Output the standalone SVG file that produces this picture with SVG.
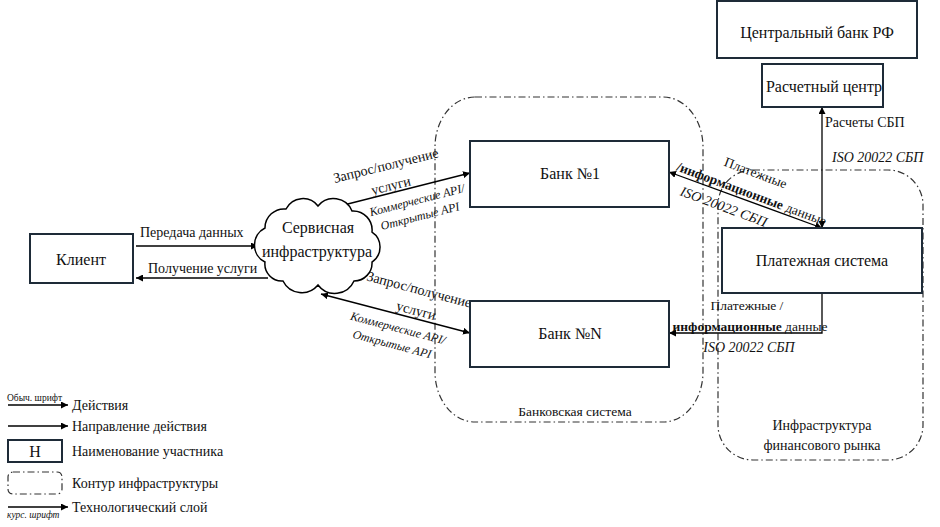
<svg xmlns="http://www.w3.org/2000/svg" width="940" height="527" viewBox="0 0 940 527" font-family="'Liberation Serif', 'Times New Roman', 'DejaVu Serif', serif">
<style>
.box{fill:#fff;stroke:#1e2b38;stroke-width:2}
.cont{fill:none;stroke:#333;stroke-width:1.2;stroke-dasharray:7 3 1.5 3}
.ln{fill:none;stroke:#000;stroke-width:1.3}
text{font-family:'Liberation Serif','Times New Roman','DejaVu Serif',serif;fill:#111}
.n{font-size:16px;text-anchor:middle}
.l{font-size:14px}
.i{font-size:13px;font-style:italic}
.m{text-anchor:middle}
.b{font-weight:bold}
</style>
<defs>
<marker id="ah" viewBox="0 0 10 10" refX="10" refY="5" markerWidth="7" markerHeight="7" markerUnits="userSpaceOnUse" orient="auto-start-reverse">
<path d="M0,0 L10,5 L0,10 z" fill="#000"/>
</marker>
</defs>
<rect width="940" height="527" fill="#fff"/>

<g id="contours">
<rect id="bank-system" class="cont" x="435" y="97" width="268" height="325" rx="40" ry="50"/>
<rect id="fin-infra" class="cont" x="718" y="170" width="205" height="290" rx="35" ry="35"/>
<text class="l m" x="575" y="416" style="font-size:13.5px">Банковская система</text>
<text class="l m" x="822" y="430">Инфраструктура</text>
<text class="l m" x="822" y="450">финансового рынка</text>
</g>

<g id="connectors">
<line class="ln" x1="136" y1="246" x2="258" y2="246" marker-end="url(#ah)"/>
<line class="ln" x1="268" y1="278" x2="136" y2="278" marker-end="url(#ah)"/>
<line class="ln" x1="324" y1="210" x2="470" y2="173" marker-start="url(#ah)" marker-end="url(#ah)"/>
<line class="ln" x1="321" y1="294" x2="470" y2="333" marker-start="url(#ah)" marker-end="url(#ah)"/>
<line class="ln" x1="669" y1="172" x2="822" y2="228" marker-start="url(#ah)" marker-end="url(#ah)"/>
<line class="ln" x1="822" y1="107" x2="822" y2="228" marker-start="url(#ah)" marker-end="url(#ah)"/>
<polyline class="ln" points="822,293 822,333 669,333" marker-end="url(#ah)"/>

<text class="l" x="140" y="237">Передача данных</text>
<text class="l" x="148" y="273">Получение услуги</text>

<g transform="translate(387,170) rotate(-14)"><text class="l m">Запрос/получение</text></g>
<g transform="translate(392,190) rotate(-14)"><text class="l m">услуги</text></g>
<g transform="translate(418,204) rotate(-14.5)"><text class="i m" style="font-size:12px">Коммерческие API/</text></g>
<g transform="translate(421,220) rotate(-14.5)"><text class="i m" style="font-size:12px">Открытые API</text></g>

<g transform="translate(418,294) rotate(14.7)"><text class="l m">Запрос/получение</text></g>
<g transform="translate(415,315) rotate(14.7)"><text class="l m">услуги</text></g>
<g transform="translate(397,332) rotate(14.7)"><text class="i m" style="font-size:12px">Коммерческие API/</text></g>
<g transform="translate(391,348) rotate(14.7)"><text class="i m" style="font-size:12px">Открытые API</text></g>

<g transform="translate(754,177) rotate(20.5)"><text class="l m" style="font-size:13.5px">Платежные</text></g>
<g transform="translate(750,198) rotate(20.5)"><text class="l m" style="font-size:13.5px"><tspan class="b">/информационные</tspan> данные</text></g>
<g transform="translate(722,211) rotate(20.5)"><text class="i m" style="font-size:14px">ISO 20022 СБП</text></g>

<text class="l m" x="747" y="310" style="font-size:13.5px">Платежные /</text>
<text class="l m" x="750" y="331" style="font-size:13.5px"><tspan class="b">информационные</tspan> данные</text>
<text class="i m" x="749" y="352" style="font-size:14px">ISO 20022 СБП</text>

<text class="l" x="825" y="127">Расчеты СБП</text>
<text class="i" x="832" y="162" style="font-size:14px">ISO 20022 СБП</text>
</g>

<g id="cb"><rect class="box" x="717" y="1" width="200" height="57"/><text class="n" x="817" y="38">Центральный банк РФ</text></g>
<g id="rc"><rect class="box" x="762" y="64" width="121" height="43"/><text class="n" x="824" y="92">Расчетный центр</text></g>
<g id="ps"><rect class="box" x="722" y="228" width="200" height="65"/><text class="n" x="822" y="266">Платежная система</text></g>
<g id="bank1"><rect class="box" x="470" y="141" width="199" height="66"/><text class="n" x="570" y="179">Банк №1</text></g>
<g id="bankN"><rect class="box" x="470" y="301" width="199" height="66"/><text class="n" x="570" y="339">Банк №N</text></g>
<g id="client"><rect class="box" x="30" y="234" width="103" height="49"/><text class="n" x="81" y="265">Клиент</text></g>
<g id="cloud">
<path fill="#fff" stroke="#000" stroke-width="1.5" d="M265,262 A19,19 0 0 1 265,228 A19,19 0 0 1 286,209 A19,19 0 0 1 318,206 A20,20 0 0 1 352,211 A19,19 0 0 1 372,232 A18,18 0 0 1 372,262 A18,18 0 0 1 354,281 A21,21 0 0 1 318,285 A21,21 0 0 1 283,281 A17,17 0 0 1 265,262 Z"/>
<text class="n" x="318" y="233">Сервисная</text>
<text class="n" x="317" y="257">инфраструктура</text>
</g>

<g id="legend">
<text x="7" y="401" style="font-size:9.5px">Обыч. шрифт</text>
<line class="ln" x1="8" y1="405" x2="68" y2="405" marker-end="url(#ah)"/>
<text class="l" x="72" y="410">Действия</text>
<line class="ln" x1="8" y1="426" x2="68" y2="426" marker-end="url(#ah)"/>
<text class="l" x="72" y="431">Направление действия</text>
<rect class="box" x="8" y="440" width="54" height="22"/>
<text class="n" x="35" y="457">Н</text>
<text class="l" x="72" y="456">Наименование участника</text>
<rect class="cont" x="8" y="472" width="54" height="22" rx="5"/>
<text class="l" x="72" y="488">Контур инфраструктуры</text>
<line class="ln" x1="8" y1="507" x2="68" y2="507" marker-end="url(#ah)"/>
<text x="7" y="518" style="font-size:9.5px;font-style:italic">курс. шрифт</text>
<text class="l" x="72" y="512">Технологический слой</text>
</g>
</svg>
